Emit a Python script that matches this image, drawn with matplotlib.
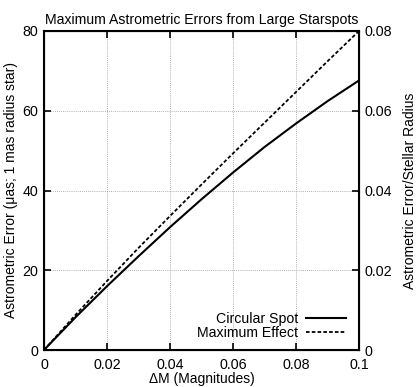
import matplotlib
matplotlib.use("Agg")
import matplotlib.pyplot as plt

plt.rcParams['font.family'] = ['Liberation Sans', 'DejaVu Sans']

dm = [0.0, 0.01, 0.02, 0.03, 0.04, 0.05, 0.06, 0.07, 0.08, 0.09, 0.1]
circular = [0.0, 8.2, 16.0, 23.5, 30.8, 37.8, 44.5, 50.9, 56.8, 62.4, 67.6]
maximum = [0.0, 8.8, 17.3, 25.6, 33.6, 41.5, 49.3, 57.0, 64.7, 72.4, 80.0]

xticks = [0, 0.02, 0.04, 0.06, 0.08, 0.1]
xticklabels = ["0", "0.02", "0.04", "0.06", "0.08", "0.1"]
yticks = [0, 20, 40, 60, 80]
y2ticks = [0, 0.02, 0.04, 0.06, 0.08]
y2ticklabels = ["0", "0.02", "0.04", "0.06", "0.08"]

fig = plt.figure(figsize=(4.17, 3.87), dpi=100)
ax = fig.add_axes([44/417, 1-350/387, (359-44)/417, (350-31)/387])

ax.plot(dm, circular, color='black', lw=1.5, label='Circular Spot')
ax.plot(dm, maximum, color='black', lw=1.3, ls=(0, (2, 1.2)), label='Maximum Effect')

ax.set_xlim(0, 0.1)
ax.set_ylim(0, 80)
ax.set_xticks(xticks)
ax.set_xticklabels(xticklabels)
ax.set_yticks(yticks)
ax.grid(True, color='#999999', ls=(0, (1, 1.5)), lw=0.6)
ax.tick_params(direction='in', length=5, width=1.2, labelsize=10.3, top=True, pad=4)
ax.tick_params(axis='x', pad=6)
for s in ax.spines.values():
    s.set_linewidth(1.5)

ax.set_title('Maximum Astrometric Errors from Large Starspots', fontsize=10.1, pad=5)
ax.set_xlabel('ΔM (Magnitudes)', fontsize=10, labelpad=0)
ax.set_ylabel('Astrometric Error (μas; 1 mas radius star)', fontsize=10, labelpad=3)

ax2 = ax.twinx()
ax2.set_ylim(0, 0.08)
ax2.set_yticks(y2ticks)
ax2.set_yticklabels(y2ticklabels)
ax2.tick_params(direction='in', length=5, width=1.2, labelsize=10.3, pad=4)
ax2.set_ylabel('Astrometric Error/Stellar Radius', fontsize=10, labelpad=8)

leg = ax.legend(loc='lower right', frameon=False, markerfirst=False, fontsize=10.2,
                handlelength=2.8, handletextpad=0.6, labelspacing=0.0,
                borderaxespad=0.3, bbox_to_anchor=(0.99, 0.0))

fig.savefig('out.png', dpi=100)
